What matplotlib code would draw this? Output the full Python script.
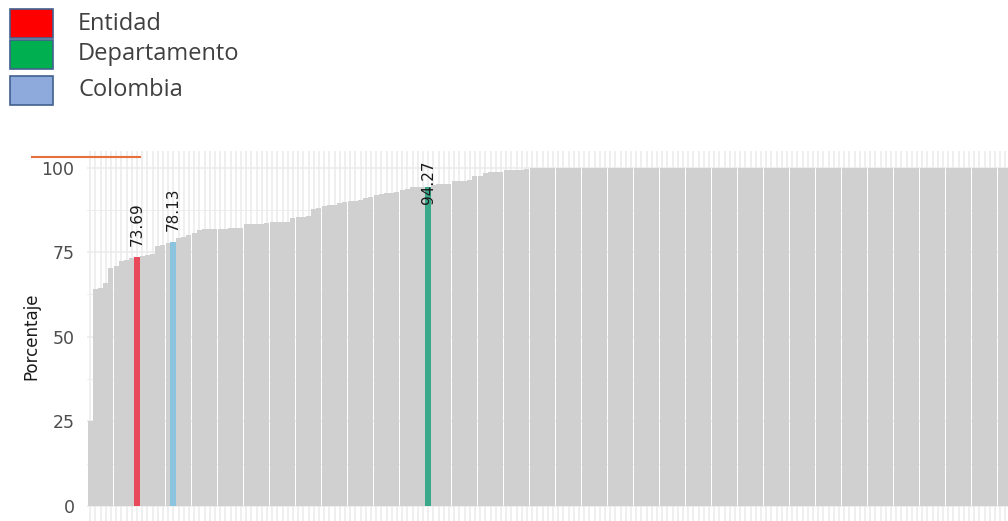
import matplotlib
matplotlib.use("Agg")
import matplotlib.pyplot as plt
from matplotlib.patches import Rectangle
from matplotlib.lines import Line2D

plt.rcParams["font.family"] = ["DejaVu Sans"]

# porcentaje por entidad, ordenado de menor a mayor
valores = [
    25.0, 64.0, 64.5, 65.9, 70.4, 71.0, 72.3, 72.8, 73.2, 73.69,
    73.9, 74.1, 74.5, 76.7, 77.2, 77.6, 78.13, 79.3, 79.6, 80.2,
    80.7, 81.5, 81.8, 81.8, 81.9, 81.9, 81.9, 82.0, 82.0, 82.1,
    83.2, 83.3, 83.3, 83.4, 83.5, 83.9, 83.9, 84.0, 84.0, 85.0,
    85.3, 85.4, 85.6, 87.8, 87.9, 88.7, 88.9, 89.0, 89.5, 89.7,
    90.0, 90.2, 90.3, 91.0, 91.2, 92.0, 92.3, 92.4, 92.6, 92.7,
    93.4, 93.6, 94.1, 94.2, 94.2, 94.27, 94.8, 95.0, 95.0, 95.2,
    96.0, 96.0, 96.1, 96.2, 97.4, 97.6, 98.5, 98.6, 98.7, 98.8,
    99.2, 99.2, 99.3, 99.4, 99.7, 99.8, 100, 100, 100, 100,
    100, 100, 100, 100, 100, 100, 100, 100, 100, 100,
    100, 100, 100, 100, 100, 100, 100, 100, 100, 100,
    100, 100, 100, 100, 100, 100, 100, 100, 100, 100,
    100, 100, 100, 100, 100, 100, 100, 100, 100, 100,
    100, 100, 100, 100, 100, 100, 100, 100, 100, 100,
    100, 100, 100, 100, 100, 100, 100, 100, 100, 100,
    100, 100, 100, 100, 100, 100, 100, 100, 100, 100,
    100, 100, 100, 100, 100, 100, 100, 100, 100, 100,
    100, 100, 100, 100, 100, 100, 100,
]

# barras resaltadas: indice en el orden
idx_entidad = 9
idx_colombia = 16
idx_departamento = 65

leyenda_nombres = ["Entidad", "Departamento", "Colombia"]
leyenda_colores = ["#FF0000", "#00B050", "#8EA9DB"]

yticks = [0, 25, 50, 75, 100]

W, H = 1008, 521
fig = plt.figure(figsize=(W / 100, H / 100), dpi=100)

def fx(px):
    return px / W

def fy(py):
    return 1 - py / H

# panel: 0 -> y=506px, 100 -> y=167.5px
ppu = (506 - 167.5) / 100
ax_bottom = fy(506 + 5 * ppu)
ax_h = 110 * ppu / H
ax = fig.add_axes([fx(87), ax_bottom, 1 - fx(87), ax_h])

n = len(valores)
xs = list(range(n))
colores = ["#D0D0D0"] * n
anchos = [0.95] * n
for i, c in [(idx_entidad, "#E84A5C"), (idx_colombia, "#8CC3DF"),
             (idx_departamento, "#3AA98A")]:
    colores[i] = c
    anchos[i] = 1.2

ax.bar(xs, valores, width=anchos, color=colores, linewidth=0, zorder=3,
       antialiased=False)

pitch = 5.2
ax.set_xlim(-0.6, -0.6 + (W - 87) / pitch)
ax.set_ylim(-5, 105)

# rejilla estilo theme_minimal
ax.set_xticks(xs)
ax.set_yticks(yticks)
ax.set_yticks([12.5, 37.5, 62.5, 87.5], minor=True)
ax.grid(True, which="major", color="#EBEBEB", linewidth=1.1, zorder=0)
ax.grid(True, which="minor", axis="y", color="#EBEBEB", linewidth=0.6, zorder=0)
ax.set_axisbelow(True)
for s in ax.spines.values():
    s.set_visible(False)
ax.tick_params(axis="x", length=0, labelbottom=False)
ax.tick_params(axis="y", which="both", length=0, pad=9, labelsize=12.5,
               labelcolor="#4D4D4D")
ax.set_ylabel("Porcentaje", fontsize=12, color="#1A1A1A", labelpad=1)

# etiquetas de valor
etiquetas = [(idx_entidad, 83.3), (idx_colombia, 87.8), (idx_departamento, 95.6)]
for i, ypos in etiquetas:
    ax.text(i, ypos, f"{valores[i]:.2f}", rotation=90, ha="center", va="center",
            fontsize=11, color="#1A1A1A", zorder=5)

# leyenda dibujada arriba a la izquierda
fila_top = [9.5, 40.5, 76.5]
for nombre, col, top in zip(leyenda_nombres, leyenda_colores, fila_top):
    fig.add_artist(Rectangle((fx(10), fy(top + 28)), fx(43), 28 / H,
                             facecolor=col, edgecolor="#41608F", linewidth=1.2,
                             transform=fig.transFigure))
    fig.text(fx(78), fy(top + 14), nombre, fontsize=17, color="#404040",
             family="Open Sans", va="center", ha="left")

fig.add_artist(Line2D([fx(32), fx(140)], [fy(157), fy(157)], color="#E8703A",
                      linewidth=1.5, transform=fig.transFigure))

fig.savefig("out.png", dpi=100)
